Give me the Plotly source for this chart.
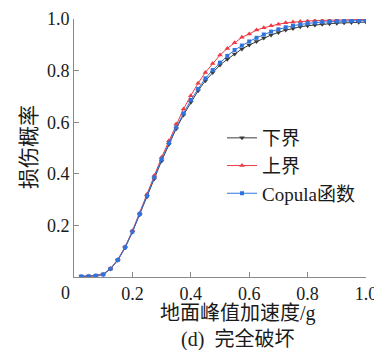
import plotly.graph_objects as go

pga = [0.025, 0.05, 0.075, 0.1, 0.125, 0.15, 0.175, 0.2, 0.225, 0.25,
       0.275, 0.3, 0.325, 0.35, 0.375, 0.4, 0.425, 0.45, 0.475, 0.5,
       0.525, 0.55, 0.575, 0.6, 0.625, 0.65, 0.675, 0.7, 0.725, 0.75,
       0.775, 0.8, 0.825, 0.85, 0.875, 0.9, 0.925, 0.95, 0.975, 1.0]

lower = [0.002, 0.003, 0.005, 0.010, 0.031, 0.065, 0.113, 0.174, 0.241, 0.311,
         0.381, 0.450, 0.515, 0.575, 0.628, 0.677, 0.722, 0.761, 0.793, 0.822,
         0.844, 0.864, 0.884, 0.899, 0.913, 0.926, 0.938, 0.948, 0.957, 0.963,
         0.970, 0.974, 0.977, 0.980, 0.982, 0.984, 0.985, 0.986, 0.987, 0.988]

upper = [0.002, 0.003, 0.005, 0.011, 0.033, 0.068, 0.117, 0.179, 0.248, 0.321,
         0.393, 0.464, 0.528, 0.593, 0.651, 0.703, 0.751, 0.793, 0.828, 0.860,
         0.886, 0.908, 0.929, 0.942, 0.957, 0.966, 0.974, 0.980, 0.985, 0.988,
         0.990, 0.992, 0.994, 0.995, 0.996, 0.997, 0.997, 0.998, 0.998, 0.998]

copula = [0.002, 0.003, 0.005, 0.010, 0.032, 0.066, 0.115, 0.176, 0.244, 0.315,
          0.386, 0.456, 0.520, 0.580, 0.634, 0.686, 0.729, 0.770, 0.802, 0.831,
          0.857, 0.880, 0.897, 0.913, 0.927, 0.940, 0.951, 0.960, 0.968, 0.974,
          0.979, 0.983, 0.986, 0.988, 0.990, 0.991, 0.992, 0.993, 0.993, 0.994]

tick_vals = [0.2, 0.4, 0.6, 0.8, 1.0]
tick_text = ["0.2", "0.4", "0.6", "0.8", "1.0"]

FONT = "Liberation Serif, Times New Roman, Noto Sans CJK SC, serif"
TXT = "#1a1a1a"

fig = go.Figure()
fig.add_trace(go.Scatter(x=pga, y=lower, name="下界", mode="lines+markers",
                         line=dict(color="#3a3a3a", width=1),
                         marker=dict(symbol="triangle-down", size=5, color="#3a3a3a")))
fig.add_trace(go.Scatter(x=pga, y=upper, name="上界", mode="lines+markers",
                         line=dict(color="#ee3b45", width=1),
                         marker=dict(symbol="triangle-up", size=5, color="#ee3b45")))
fig.add_trace(go.Scatter(x=pga, y=copula, name="Copula函数", mode="lines+markers",
                         line=dict(color="#2f74de", width=1),
                         marker=dict(symbol="square", size=4, color="#2f74de")))

axis_common = dict(showgrid=False, zeroline=False, showline=True, automargin=False,
                   linecolor="#8a8a8a", linewidth=1, ticks="inside",
                   ticklen=5, tickcolor="#8a8a8a",
                   tickfont=dict(family=FONT, size=18, color=TXT))

fig.update_xaxes(range=[0, 1.0], tickvals=tick_vals, ticktext=tick_text, **axis_common)
fig.update_yaxes(range=[0, 1.0], tickvals=tick_vals, ticktext=tick_text, **axis_common)

# page offset of the figure div (body margin)
OFF = 8
W, H = 382 - OFF, 350 - OFF
L, R, T, B = 74 - OFF, 16, 19 - OFF, 73
PW, PH = W - L - R, H - T - B


def px(xp):
    return (xp - OFF - L) / PW


def py(yp):
    return (H - B - (yp - OFF)) / PH


def note(text, xp, yp, size, angle=0):
    return dict(text=text, x=px(xp), y=py(yp), xref="paper", yref="paper",
                xanchor="center", yanchor="middle", showarrow=False,
                textangle=angle, font=dict(family=FONT, size=size, color=TXT))


fig.update_layout(
    template="none",
    width=W, height=H,
    margin=dict(l=L, r=R, t=T, b=B, pad=0),
    paper_bgcolor="white", plot_bgcolor="white",
    showlegend=True,
    legend=dict(x=px(222), y=py(119), xanchor="left", yanchor="top",
                bgcolor="rgba(0,0,0,0)", borderwidth=0,
                font=dict(family=FONT, size=19, color=TXT),
                itemwidth=30, tracegroupgap=0),
    annotations=[
        note("0", 65, 293, 18),
        note("地面峰值加速度/g<br>(d)  完全破坏", 238, 326, 20),
        note("损伤概率", 29, 147, 21, -90),
    ],
)

fig.write_html("out.html")
